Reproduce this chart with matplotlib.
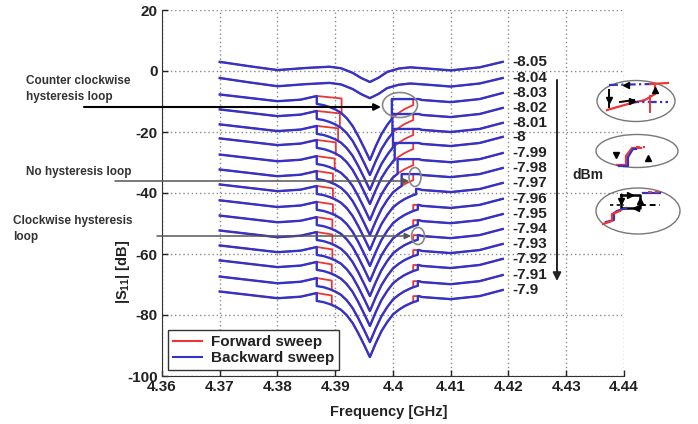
import numpy as np
import matplotlib
matplotlib.use("Agg")
import matplotlib.pyplot as plt
from matplotlib.patches import Ellipse
from matplotlib.lines import Line2D

plt.rcParams["font.family"] = ["Liberation Sans", "DejaVu Sans"]
plt.rcParams["mathtext.fontset"] = "custom"
plt.rcParams["mathtext.rm"] = "Liberation Sans:bold"
plt.rcParams["mathtext.it"] = "Liberation Sans:bold"
plt.rcParams["mathtext.bf"] = "Liberation Sans:bold"
plt.rcParams["axes.unicode_minus"] = False

RED = "#ee3535"
BLUE = "#3333c8"
TXT = "#222222"

# ---- data ----------------------------------------------------------------
power_labels = ["-8.05", "-8.04", "-8.03", "-8.02", "-8.01", "-8", "-7.99", "-7.98",
                "-7.97", "-7.96", "-7.95", "-7.94", "-7.93", "-7.92", "-7.91", "-7.9"]
# |S11| level at the curve ends (dB)
end_level = [3.0, -2.3, -7.2, -12.1, -17.0, -21.6, -26.9, -31.8,
             -36.7, -41.9, -46.9, -51.8, -56.7, -61.6, -66.9, -71.8]
has_loop = [False, False] + [True] * 14
# left jump: backward sweep jumps at left_blue_f, forward sweep drops at left_red_f
left_blue_f = 4.3868
left_red_f = [None, None, 4.3911, 4.3908, 4.3905, 4.3901, 4.3899, 4.3896,
              4.3896, 4.3896, 4.3895, 4.3895, 4.3895, 4.3894, 4.3894, 4.3894]
# right jump: backward sweep drops at right_blue_f, forward sweep jumps at right_red_f
right_blue_f = [None, None, 4.3998, 4.3999, 4.4000, 4.4003, 4.4008, 4.4015,
                4.4040, 4.4043, 4.4043, 4.4043, 4.4043, 4.4043, 4.4043, 4.4043]
right_red_f = [None, None, 4.4035, 4.4035, 4.4035, 4.4035, 4.4035, 4.4035,
               4.4040, 4.4035, 4.4035, 4.4035, 4.4035, 4.4035, 4.4035, 4.4035]

# shallow-dip shape of the two top traces (dB relative to end level)
smooth_f = [4.370, 4.375, 4.380, 4.385, 4.389, 4.391, 4.393, 4.3945, 4.396,
            4.3975, 4.399, 4.401, 4.403, 4.406, 4.410, 4.415, 4.419]
smooth_rel = [0.0, -1.4, -2.7, -2.0, -1.6, -2.1, -3.6, -5.3, -6.6,
              -5.2, -3.3, -2.2, -1.8, -2.2, -2.8, -1.8, 0.0]

# loop-trace pieces (dB relative to end level)
outer_left_f = [4.370, 4.375, 4.380, 4.384, 4.3868]
outer_left_rel = [-0.5, -1.6, -2.7, -2.2, -1.0]
upper_left_rel = -1.8
branch_f = [4.3868, 4.388, 4.389, 4.390, 4.391, 4.392, 4.393, 4.394, 4.395, 4.396,
            4.397, 4.398, 4.399, 4.400, 4.401, 4.402, 4.403, 4.4035, 4.404, 4.4045]
branch_rel = [-3.6, -4.0, -4.6, -5.4, -6.5, -8.3, -10.8, -14.2, -18.0, -22.0,
              -17.5, -13.5, -10.5, -8.0, -6.5, -5.3, -4.4, -4.0, -3.7, -3.4]
upper_right_rel = -2.0
outer_right_f = [4.4045, 4.405, 4.410, 4.415, 4.419]
outer_right_rel = [-2.0, -2.3, -3.0, -2.0, 0.0]

x_ticks = [4.36, 4.37, 4.38, 4.39, 4.40, 4.41, 4.42, 4.43, 4.44]
x_tick_labels = ["4.36", "4.37", "4.38", "4.39", "4.4", "4.41", "4.42", "4.43", "4.44"]
y_ticks = [-100, -80, -60, -40, -20, 0, 20]


def branch_at(f):
    return float(np.interp(f, branch_f, branch_rel))


def sweep_path(f_low, f_high, forward):
    """Path of one sweep: jump-down frequency on the left, jump-up on the right."""
    fs = list(outer_left_f)
    rs = list(outer_left_rel)
    if forward:
        fs += [f_low, f_low]
        rs += [upper_left_rel, branch_at(f_low)]
    else:
        fs += [f_low]
        rs += [branch_at(f_low)]
    for f, r in zip(branch_f, branch_rel):
        if f_low < f < f_high:
            fs.append(f)
            rs.append(r)
    fs += [f_high, f_high]
    rs += [branch_at(f_high), upper_right_rel]
    fs += outer_right_f
    rs += outer_right_rel
    return np.array(fs), np.array(rs)


fig = plt.figure(figsize=(6.98, 4.24), dpi=100, facecolor="white")
ax = fig.add_axes([162 / 698, 1 - 376 / 424, 462 / 698, 366 / 424])

traces = []
for i, level in enumerate(end_level):
    if has_loop[i]:
        fr, rr = sweep_path(left_red_f[i], right_red_f[i], True)
        fb, rb = sweep_path(left_blue_f, right_blue_f[i], False)
    else:
        fr, rr = np.array(smooth_f), np.array(smooth_rel)
        fb, rb = fr, rr
    traces.append((fr, rr + level, fb, rb + level))

for fr, yr, fb, yb in traces:
    ax.plot(fr, yr, color=RED, lw=1.3, zorder=3)
for fr, yr, fb, yb in traces:
    ax.plot(fb, yb, color=BLUE, lw=1.7, zorder=4)

for lab, level in zip(power_labels, end_level):
    ax.text(4.4206, level, lab, fontsize=11, fontweight="bold", color=TXT,
            ha="left", va="center", clip_on=False)

ax.set_xlim(4.36, 4.44)
ax.set_ylim(-100, 20)
ax.set_xticks(x_ticks)
ax.set_xticklabels(x_tick_labels)
ax.set_yticks(y_ticks)
ax.tick_params(direction="in", length=4, width=1, labelsize=11, pad=3, colors=TXT)
for lab in ax.get_xticklabels() + ax.get_yticklabels():
    lab.set_fontweight("bold")
ax.grid(True, color="#8a8a8a", linestyle=(0, (1, 2)), linewidth=1)
ax.spines["top"].set_visible(False)
ax.spines["right"].set_visible(False)
ax.spines["left"].set_color("#333333")
ax.spines["bottom"].set_color("#333333")

ax.set_xlabel("Frequency [GHz]", fontsize=10.5, fontweight="bold", color=TXT)
ax.xaxis.set_label_coords(0.49, -0.08)
ax.set_ylabel("|S$_{11}$| [dB]", fontsize=10.5, fontweight="bold", color=TXT)
ax.yaxis.set_label_coords(-0.066, 0.284)

handles = [Line2D([], [], color=RED, lw=1.5), Line2D([], [], color=BLUE, lw=1.5)]
leg = ax.legend(handles, ["Forward sweep", "Backward sweep"], loc="lower left",
                bbox_to_anchor=(0.0, 0.0), borderaxespad=0.4, fancybox=False,
                framealpha=1, edgecolor="#333333", handlelength=1.9,
                handletextpad=0.6, borderpad=0.3, labelspacing=0.15,
                prop={"size": 11, "weight": "bold"})
leg.get_frame().set_linewidth(1.0)
for t in leg.get_texts():
    t.set_color(TXT)

# ---- annotations, in pixel coordinates ------------------------------------
ov = fig.add_axes([0, 0, 1, 1], facecolor="none")
ov.set_xlim(0, 698)
ov.set_ylim(424, 0)
ov.axis("off")

ov.text(26, 81, "Counter clockwise", fontsize=8.5, fontweight="bold", color="#333333", va="center")
ov.text(26, 97, "hysteresis loop", fontsize=8.5, fontweight="bold", color="#333333", va="center")
ov.text(26, 172, "No hysteresis loop", fontsize=8.5, fontweight="bold", color="#333333", va="center")
ov.text(13, 221, "Clockwise hysteresis", fontsize=8.5, fontweight="bold", color="#333333", va="center")
ov.text(13, 237, "loop", fontsize=8.5, fontweight="bold", color="#333333", va="center")

ov.annotate("", xy=(381, 107), xytext=(84, 107),
            arrowprops=dict(arrowstyle="-|>", color="black", lw=1.5, mutation_scale=10,
                            shrinkA=0, shrinkB=0))
ov.annotate("", xy=(409, 181), xytext=(115, 181),
            arrowprops=dict(arrowstyle="-|>", color="#555555", lw=1.1, mutation_scale=9,
                            shrinkA=0, shrinkB=0))
ov.annotate("", xy=(411, 236), xytext=(157, 236),
            arrowprops=dict(arrowstyle="-|>", color="#555555", lw=1.1, mutation_scale=9,
                            shrinkA=0, shrinkB=0))
for cx, cy, w, h in [(400, 105, 35, 25), (415, 177, 12, 19), (418, 236, 13, 17)]:
    ov.add_patch(Ellipse((cx, cy), w, h, fill=False, edgecolor="#888888", lw=1.2))

# power-direction arrow
ov.annotate("", xy=(557, 281), xytext=(557, 80),
            arrowprops=dict(arrowstyle="-|>", color="#222222", lw=1.4, mutation_scale=12,
                            shrinkA=0, shrinkB=0))
ov.text(572, 175, "dBm", fontsize=10, fontweight="bold", color=TXT, va="center")

# small sketches of the three loop types
for cx, cy, w, h in [(636, 101, 78, 41), (637, 151, 82, 33), (638, 211, 84, 46)]:
    ov.add_patch(Ellipse((cx, cy), w, h, fill=False, edgecolor="#777777", lw=1.0))

# counter clockwise sketch
ov.plot([609, 652], [85, 84], color=BLUE, lw=1.6, ls=(0, (4, 1.5, 1, 1.5)))
ov.plot([650, 668], [84, 83], color=RED, lw=1.6)
ov.plot([607, 628, 645, 655, 655], [110, 104, 100, 94, 86], color=RED, lw=1.6)
ov.plot([630, 668], [102, 102], color=BLUE, lw=1.6, ls=(0, (4, 1.5, 1, 1.5)))
ov.plot([650, 650], [96, 112], color=RED, lw=1.4)
ov.plot([609, 609], [90, 107], color="black", lw=1.4)
ov.plot([620, 634], [102, 100], color="black", lw=1.4)
ov.plot([655], [90], marker="^", color="black", ms=5)
ov.plot([609], [100], marker="v", color="black", ms=5)
ov.plot([626], [85], marker="<", color="black", ms=5)
ov.plot([632], [100.5], marker=">", color="black", ms=4)

# no hysteresis sketch
ov.plot([617, 626, 626, 632, 641], [165, 165, 156, 148, 148], color=RED, lw=1.6)
ov.plot([619, 628, 628, 633, 636], [166, 166, 157, 149, 149], color=BLUE, lw=1.6)
ov.plot([636, 645], [147, 147], color=RED, lw=1.4, ls=(0, (2, 1.5)))
ov.plot([616], [155], marker="v", color="black", ms=5)
ov.plot([648], [158], marker="^", color="black", ms=5)

# clockwise sketch
ov.plot([621, 621, 640, 640, 621], [195, 208, 208, 195, 195], color="black", lw=1.8)
ov.plot([640, 660], [205, 205], color="black", lw=1.4, ls=(0, (3, 2)))
ov.plot([610, 624], [205, 205], color="black", lw=1.2, ls=(0, (2, 2)))
ov.plot([643, 660], [193, 193], color=BLUE, lw=1.6)
ov.plot([648, 660], [192, 192], color=RED, lw=1.4, ls=(0, (2, 1.5)))
ov.plot([626, 617, 614, 614, 606], [208, 211, 213, 220, 222], color=BLUE, lw=1.6)
ov.plot([620, 612, 612, 603], [211, 214, 221, 224], color=RED, lw=1.6)
ov.plot([630], [195], marker=">", color="black", ms=5)
ov.plot([636], [208], marker="<", color="black", ms=5)
ov.plot([621], [201], marker="v", color="black", ms=5)
ov.plot([640], [201], marker="^", color="black", ms=5)

fig.savefig("out.png", dpi=100, facecolor="white")
